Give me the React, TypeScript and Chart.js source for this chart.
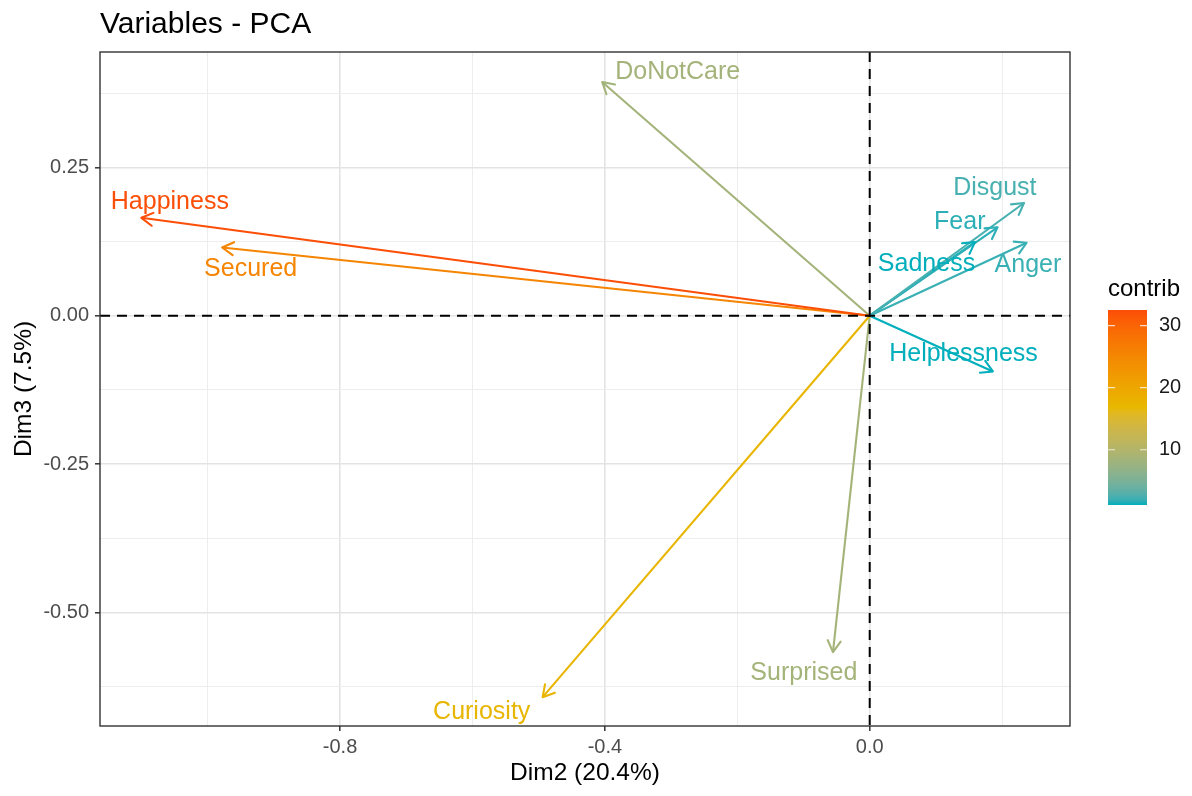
import React, { useEffect, useRef } from "react";
import { Chart, registerables } from "chart.js";

Chart.register(...registerables);

// ---------------- data ----------------
const VARIABLES = [
  "Happiness",
  "Secured",
  "DoNotCare",
  "Curiosity",
  "Surprised",
  "Disgust",
  "Fear",
  "Sadness",
  "Anger",
  "Helplessness",
];
const DIM2 = [-1.1, -0.978, -0.404, -0.494, -0.0555, 0.233, 0.193, 0.159, 0.237, 0.186];
const DIM3 = [0.165, 0.115, 0.394, -0.643, -0.567, 0.19, 0.149, 0.124, 0.123, -0.094];
const CONTRIB = [32.5, 25.4, 8.4, 17.3, 8.5, 2.4, 1.6, 1.1, 1.9, 1.1];
// label anchor (centre of text) in data units
const LABEL_DIM2 = [-1.057, -0.935, -0.29, -0.586, -0.0995, 0.189, 0.136, 0.0858, 0.239, 0.1417];
const LABEL_DIM3 = [0.1957, 0.0815, 0.415, -0.6646, -0.5993, 0.2187, 0.1619, 0.0899, 0.0885, -0.0607];

const X_MAJOR = [-0.8, -0.4, 0.0];
const X_MINOR = [-1.0, -0.6, -0.2, 0.2];
const Y_MAJOR = [0.25, 0.0, -0.25, -0.5];
const Y_MINOR = [0.375, 0.125, -0.125, -0.375, -0.625];
const X_TICK_LABELS = ["-0.8", "-0.4", "0.0"];
const Y_TICK_LABELS = ["0.25", "0.00", "-0.25", "-0.50"];
const LEGEND_TICKS = [10, 20, 30];
const LEGEND_TICK_LABELS = ["10", "20", "30"];

const TITLE = "Variables - PCA";
const X_TITLE = "Dim2 (20.4%)";
const Y_TITLE = "Dim3 (7.5%)";
const LEGEND_TITLE = "contrib";

// ---------------- styling ----------------
const FONT = '"Liberation Sans", Arial, Helvetica, sans-serif';
const GRADIENT = ["#00AFBB", "#E7B800", "#FC4E07"];
const X_RANGE = [-1.1625, 0.3025];
const Y_RANGE = [-0.6916, 0.4445];
const LABEL_SIZE = 25;

// ---------------- colour helpers (Lab interpolation like ggplot) ----------------
function hexToRgb(h: string) {
  const n = parseInt(h.slice(1), 16);
  return [(n >> 16) & 255, (n >> 8) & 255, n & 255];
}
function toLin(c: number) {
  c /= 255;
  return c <= 0.04045 ? c / 12.92 : Math.pow((c + 0.055) / 1.055, 2.4);
}
function fromLin(c: number) {
  const v = c <= 0.0031308 ? 12.92 * c : 1.055 * Math.pow(c, 1 / 2.4) - 0.055;
  return Math.round(Math.max(0, Math.min(1, v)) * 255);
}
function rgbToLab(rgb: number[]) {
  const r = toLin(rgb[0]), g = toLin(rgb[1]), b = toLin(rgb[2]);
  const X = (0.4124 * r + 0.3576 * g + 0.1805 * b) / 0.95047;
  const Y = 0.2126 * r + 0.7152 * g + 0.0722 * b;
  const Z = (0.0193 * r + 0.1192 * g + 0.9505 * b) / 1.08883;
  const f = (t: number) => (t > 0.008856 ? Math.cbrt(t) : 7.787 * t + 16 / 116);
  const fx = f(X), fy = f(Y), fz = f(Z);
  return [116 * fy - 16, 500 * (fx - fy), 200 * (fy - fz)];
}
function labToRgb(lab: number[]) {
  const fy = (lab[0] + 16) / 116;
  const fx = fy + lab[1] / 500;
  const fz = fy - lab[2] / 200;
  const inv = (t: number) => (t * t * t > 0.008856 ? t * t * t : (t - 16 / 116) / 7.787);
  const X = inv(fx) * 0.95047, Y = inv(fy), Z = inv(fz) * 1.08883;
  const r = 3.2406 * X - 1.5372 * Y - 0.4986 * Z;
  const g = -0.9689 * X + 1.8758 * Y + 0.0415 * Z;
  const b = 0.0557 * X - 0.204 * Y + 1.057 * Z;
  return [fromLin(r), fromLin(g), fromLin(b)];
}
const LABS = GRADIENT.map((h) => rgbToLab(hexToRgb(h)));
function rampColor(t: number) {
  t = Math.max(0, Math.min(1, t));
  const seg = t <= 0.5 ? 0 : 1;
  const u = seg === 0 ? t / 0.5 : (t - 0.5) / 0.5;
  const a = LABS[seg], b = LABS[seg + 1];
  const lab = [0, 1, 2].map((k) => a[k] + (b[k] - a[k]) * u);
  const [r, g, bb] = labToRgb(lab);
  return `rgb(${r},${g},${bb})`;
}
const C_MIN = Math.min(...CONTRIB);
const C_MAX = Math.max(...CONTRIB);
function contribColor(v: number) {
  return rampColor((v - C_MIN) / (C_MAX - C_MIN));
}

// ---------------- overlay plugin ----------------
const overlayPlugin = {
  id: "pcaOverlay",
  afterDatasetsDraw(chart: any) {
    const { ctx, chartArea } = chart;
    const xs = chart.scales.x, ys = chart.scales.y;
    const x0 = xs.getPixelForValue(0), y0 = ys.getPixelForValue(0);

    // dashed reference lines
    ctx.save();
    ctx.beginPath();
    ctx.rect(chartArea.left, chartArea.top, chartArea.right - chartArea.left, chartArea.bottom - chartArea.top);
    ctx.clip();
    ctx.setLineDash([10, 7]);
    ctx.lineWidth = 2;
    ctx.strokeStyle = "#000000";
    ctx.beginPath();
    ctx.moveTo(x0, chartArea.top);
    ctx.lineTo(x0, chartArea.bottom);
    ctx.moveTo(chartArea.left, y0);
    ctx.lineTo(chartArea.right, y0);
    ctx.stroke();
    ctx.restore();

    // arrowheads
    ctx.save();
    ctx.lineWidth = 2.1;
    ctx.lineCap = "round";
    ctx.lineJoin = "round";
    VARIABLES.forEach((_, i) => {
      const tx = xs.getPixelForValue(DIM2[i]);
      const ty = ys.getPixelForValue(DIM3[i]);
      const ang = Math.atan2(ty - y0, tx - x0);
      const L = 13;
      const spread = Math.PI / 6;
      ctx.strokeStyle = contribColor(CONTRIB[i]);
      ctx.beginPath();
      ctx.moveTo(tx - L * Math.cos(ang - spread), ty - L * Math.sin(ang - spread));
      ctx.lineTo(tx, ty);
      ctx.lineTo(tx - L * Math.cos(ang + spread), ty - L * Math.sin(ang + spread));
      ctx.stroke();
    });
    ctx.restore();

    // labels (anchor = middle of capital height)
    ctx.save();
    ctx.font = `${LABEL_SIZE}px ${FONT}`;
    ctx.textAlign = "center";
    ctx.textBaseline = "alphabetic";
    VARIABLES.forEach((name, i) => {
      ctx.fillStyle = contribColor(CONTRIB[i]);
      ctx.fillText(
        name,
        xs.getPixelForValue(LABEL_DIM2[i]),
        ys.getPixelForValue(LABEL_DIM3[i]) + 0.36 * LABEL_SIZE
      );
    });
    ctx.restore();
  },
  afterDraw(chart: any) {
    const { ctx, chartArea } = chart;
    ctx.save();
    // panel border
    ctx.strokeStyle = "#333333";
    ctx.lineWidth = 1.4;
    ctx.strokeRect(chartArea.left, chartArea.top, chartArea.right - chartArea.left, chartArea.bottom - chartArea.top);

    // title
    ctx.fillStyle = "#000000";
    ctx.font = `30px ${FONT}`;
    ctx.textAlign = "left";
    ctx.textBaseline = "alphabetic";
    ctx.fillText(TITLE, chartArea.left, 33);

    // axis titles
    ctx.font = `24.5px ${FONT}`;
    ctx.textAlign = "center";
    ctx.textBaseline = "middle";
    ctx.fillText(X_TITLE, (chartArea.left + chartArea.right) / 2, 773);
    ctx.save();
    ctx.translate(24, (chartArea.top + chartArea.bottom) / 2);
    ctx.rotate(-Math.PI / 2);
    ctx.fillText(Y_TITLE, 0, 0);
    ctx.restore();

    // legend colour bar
    const bx = 1108, bw = 39, btop = 310, bbot = 505;
    const grad = ctx.createLinearGradient(0, bbot, 0, btop);
    const N = 40;
    for (let k = 0; k <= N; k++) grad.addColorStop(k / N, rampColor(k / N));
    ctx.fillStyle = grad;
    ctx.fillRect(bx, btop, bw, bbot - btop);

    ctx.font = `24px ${FONT}`;
    ctx.fillStyle = "#000000";
    ctx.textAlign = "left";
    ctx.textBaseline = "alphabetic";
    ctx.fillText(LEGEND_TITLE, bx, 296);

    ctx.font = `20px ${FONT}`;
    ctx.textBaseline = "middle";
    LEGEND_TICKS.forEach((v, k) => {
      const py = bbot - ((v - C_MIN) / (C_MAX - C_MIN)) * (bbot - btop);
      ctx.strokeStyle = "rgba(255,255,255,0.75)";
      ctx.lineWidth = 1.2;
      ctx.beginPath();
      ctx.moveTo(bx, py);
      ctx.lineTo(bx + 7, py);
      ctx.moveTo(bx + bw - 7, py);
      ctx.lineTo(bx + bw, py);
      ctx.stroke();
      ctx.fillStyle = "#1A1A1A";
      ctx.fillText(LEGEND_TICK_LABELS[k], 1159, py);
    });
    ctx.restore();
  },
};

function isIn(arr: number[], v: number) {
  return arr.some((a) => Math.abs(a - v) < 1e-9);
}

export default function App() {
  const ref = useRef<HTMLCanvasElement | null>(null);

  useEffect(() => {
    if (!ref.current) return;
    const datasets = VARIABLES.map((name, i) => ({
      label: name,
      data: [
        { x: 0, y: 0 },
        { x: DIM2[i], y: DIM3[i] },
      ],
      showLine: true,
      borderColor: contribColor(CONTRIB[i]),
      backgroundColor: contribColor(CONTRIB[i]),
      borderWidth: 2.1,
      pointRadius: 0,
      pointHoverRadius: 0,
    }));

    const gridOpts = (major: number[]) => ({
      color: (c: any) => (isIn(major, c.tick?.value) ? "#E3E3E3" : "#EDEDED"),
      lineWidth: (c: any) => (isIn(major, c.tick?.value) ? 1.6 : 1),
      tickColor: (c: any) => (isIn(major, c.tick?.value) ? "#333333" : "rgba(0,0,0,0)"),
      tickWidth: 1.5,
      tickLength: 5,
      drawTicks: true,
    });

    const chart = new Chart(ref.current, {
      type: "scatter",
      data: { datasets },
      options: {
        animation: false,
        responsive: false,
        devicePixelRatio: 1,
        layout: { padding: { top: 52, right: 122, left: 0, bottom: 0 } },
        plugins: { legend: { display: false }, tooltip: { enabled: false }, title: { display: false } },
        scales: {
          x: {
            type: "linear",
            min: X_RANGE[0],
            max: X_RANGE[1],
            afterBuildTicks: (s: any) => {
              s.ticks = [...X_MINOR, ...X_MAJOR].sort((a, b) => a - b).map((v) => ({ value: v }));
            },
            afterFit: (s: any) => {
              s.height = 70;
            },
            grid: gridOpts(X_MAJOR),
            border: { display: false },
            ticks: {
              autoSkip: false,
              maxRotation: 0,
              padding: 4,
              color: "#4D4D4D",
              font: { family: FONT, size: 20 },
              callback: (v: any) => {
                const idx = X_MAJOR.findIndex((a) => Math.abs(a - v) < 1e-9);
                return idx >= 0 ? X_TICK_LABELS[idx] : "";
              },
            },
          },
          y: {
            type: "linear",
            min: Y_RANGE[0],
            max: Y_RANGE[1],
            afterBuildTicks: (s: any) => {
              s.ticks = [...Y_MINOR, ...Y_MAJOR].sort((a, b) => a - b).map((v) => ({ value: v }));
            },
            afterFit: (s: any) => {
              s.width = 100;
            },
            grid: gridOpts(Y_MAJOR),
            border: { display: false },
            ticks: {
              autoSkip: false,
              padding: 6,
              color: "#4D4D4D",
              font: { family: FONT, size: 20 },
              callback: (v: any) => {
                const idx = Y_MAJOR.findIndex((a) => Math.abs(a - v) < 1e-9);
                return idx >= 0 ? Y_TICK_LABELS[idx] : "";
              },
            },
          },
        },
      },
      plugins: [overlayPlugin],
    } as any);

    return () => chart.destroy();
  }, []);

  return (
    <div style={{ position: "absolute", left: 0, top: 0, width: 1192, height: 796, background: "#FFFFFF" }}>
      <canvas ref={ref} width={1192} height={796} style={{ width: 1192, height: 796 }} />
    </div>
  );
}
